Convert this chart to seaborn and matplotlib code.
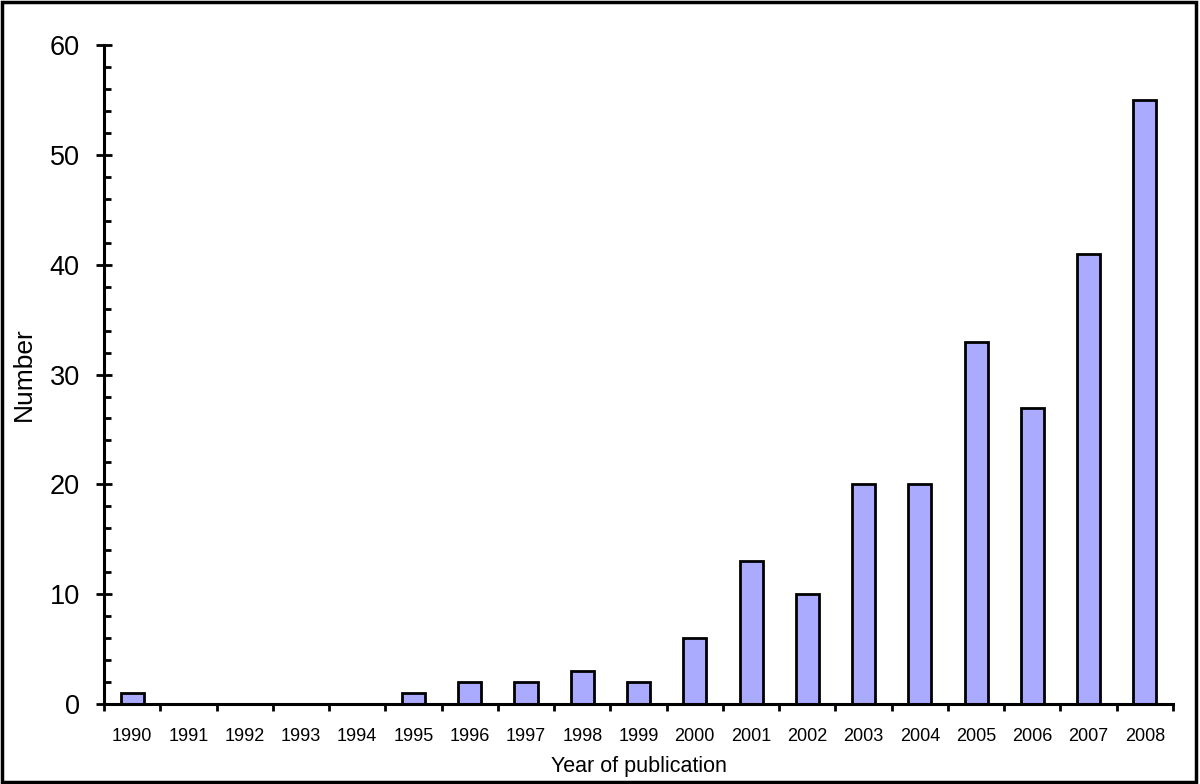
import matplotlib
matplotlib.use('Agg')
import matplotlib.pyplot as plt
import seaborn as sns
import pandas as pd
from matplotlib.ticker import MultipleLocator, FixedLocator, NullFormatter
from matplotlib.patches import Rectangle

years = ['1990', '1991', '1992', '1993', '1994', '1995', '1996', '1997', '1998', '1999',
         '2000', '2001', '2002', '2003', '2004', '2005', '2006', '2007', '2008']
counts = [1, 0, 0, 0, 0, 1, 2, 2, 3, 2, 6, 13, 10, 20, 20, 33, 27, 41, 55]

df = pd.DataFrame({'year': years, 'count': counts})

sns.set_style('white')
plt.rcParams['font.family'] = ['Liberation Sans', 'DejaVu Sans']
plt.rcParams['text.color'] = 'black'
plt.rcParams['axes.labelcolor'] = 'black'
plt.rcParams['xtick.color'] = 'black'
plt.rcParams['ytick.color'] = 'black'

fig = plt.figure(figsize=(12, 7.84), dpi=100)
ax = fig.add_axes([0.0867, 0.102, 0.8908, 0.8405])

sns.barplot(data=df, x='year', y='count', color='#AAAAFF', saturation=1,
            width=0.41, edgecolor='black', linewidth=2.0, ax=ax)

ax.set_xlim(-0.5, len(years) - 0.5)
ax.set_ylim(0, 60)

# y axis: major ticks cross the axis, minor ticks point inward
ax.yaxis.set_major_locator(MultipleLocator(10))
ax.yaxis.set_minor_locator(MultipleLocator(2))
ax.tick_params(axis='y', which='major', direction='inout', length=11, width=2,
               labelsize=19.5, pad=12, left=True)
ax.tick_params(axis='y', which='minor', direction='in', length=5, width=2, left=True)

# x axis: labels centred, tick marks on category boundaries
ax.xaxis.set_minor_locator(FixedLocator([i - 0.5 for i in range(len(years) + 1)]))
ax.xaxis.set_minor_formatter(NullFormatter())
ax.tick_params(axis='x', which='major', length=0, labelsize=13, pad=17)
ax.tick_params(axis='x', which='minor', direction='out', length=5, width=2, bottom=True)

for side in ['top', 'right']:
    ax.spines[side].set_visible(False)
for side in ['left', 'bottom']:
    ax.spines[side].set_linewidth(2.2)
    ax.spines[side].set_color('black')

ax.set_xlabel('Year of publication', fontsize=15.5, labelpad=8)
ax.set_ylabel('Number', fontsize=19, labelpad=10)

fig.patches.append(Rectangle((0.002, 0.003), 0.995, 0.994, transform=fig.transFigure,
                             fill=False, edgecolor='black', linewidth=2.5))

fig.savefig('out.png', dpi=100)
